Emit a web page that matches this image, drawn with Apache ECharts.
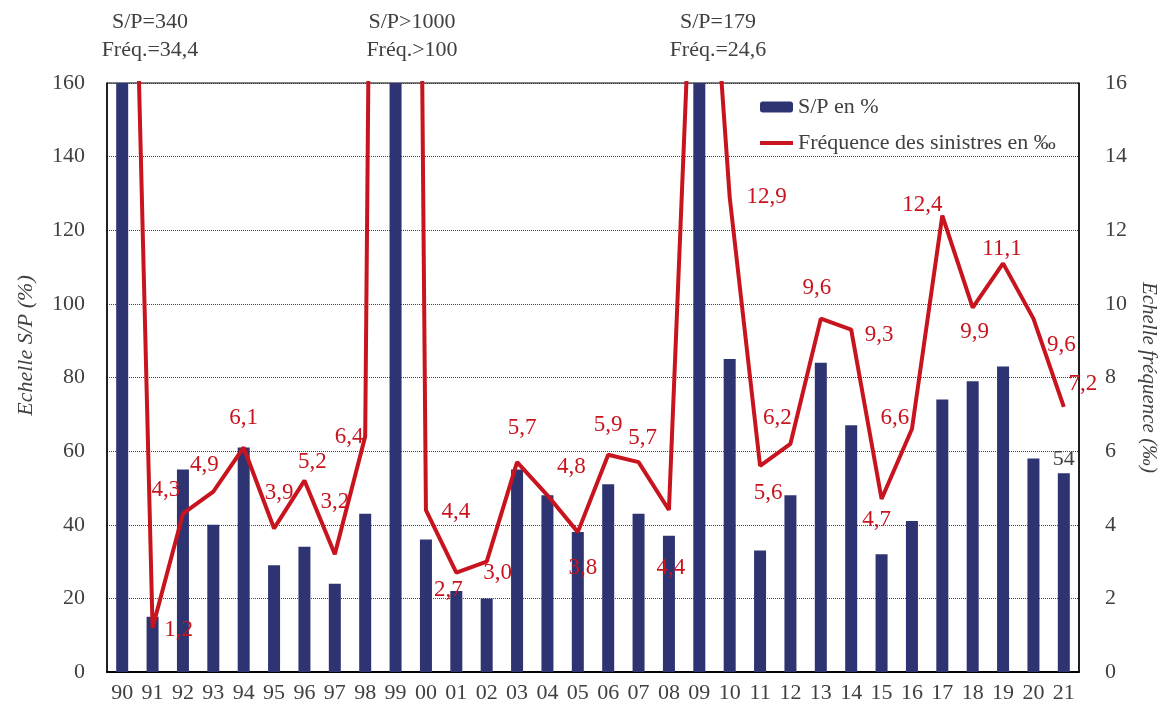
<!DOCTYPE html>
<html>
<head>
<meta charset="utf-8">
<script src="https://cdn.jsdelivr.net/npm/echarts@6/dist/echarts.min.js"></script>
<style>
  html, body { margin: 0; padding: 0; background: #fff; }
  #chart { width: 1163px; height: 705px; }
</style>
</head>
<body>
<div id="chart"></div>
<script>
const years = ["90", "91", "92", "93", "94", "95", "96", "97", "98", "99", "00", "01", "02", "03", "04", "05",
  "06", "07", "08", "09", "10", "11", "12", "13", "14", "15", "16", "17", "18", "19", "20", "21"];
// S/P en % (90, 99 et 09 hors échelle)
const spValues = [340, 15, 55, 40, 61, 29, 34, 24, 43, 1000, 36, 22, 20, 55, 48, 38,
  51, 43, 37, 179, 85, 33, 48, 84, 67, 32, 41, 74, 79, 83, 58, 54];
// fréquence des sinistres en ‰
const freqValues = [34.4, 1.2, 4.3, 4.9, 6.1, 3.9, 5.2, 3.2, 6.4, 100, 4.4, 2.7, 3.0, 5.7, 4.8, 3.8,
  5.9, 5.7, 4.4, 24.6, 12.9, 5.6, 6.2, 9.6, 9.3, 4.7, 6.6, 12.4, 9.9, 11.1, 9.6, 7.2];
const outOfScale = [
  { sp: "S/P=340", freq: "Fréq.=34,4" },
  { sp: "S/P>1000", freq: "Fréq.>100" },
  { sp: "S/P=179", freq: "Fréq.=24,6" }
];
const spNames = ["S/P en %", "Fréquence des sinistres en ‰"];

// label placement for the line (offset from the point, px)
const labelOffsets = [null, [26, 2], [-17, -24], [-9, -27], [0, -29], [5, -35], [8, -19], [0, -52], [-16, 1],
  null, [30, 2], [-8, 17], [11, 11], [5, -34], [24, -28], [5, 36], [0, -30], [4, -24], [2, 58],
  null, [37, 0], [8, 27], [-13, -26], [-4, -31], [28, 5], [-5, 21], [-17, -11], [-20, -11],
  [2, 24], [-1, -14], [28, 26], [19, -23]];

const red = "#C8141E";
const navy = "#2E3472";
const txt = "#404040";
const font = "'Liberation Serif', 'DejaVu Serif', serif";

const chartDom = document.getElementById("chart");
const myChart = echarts.init(chartDom);

const lineData = freqValues.map(function (v, i) {
  const off = labelOffsets[i];
  return {
    value: v,
    label: off ? { show: true, position: "inside", offset: off } : { show: false }
  };
});

const barData = spValues.map(function (v, i) {
  return {
    value: v,
    label: { show: i === spValues.length - 1 }
  };
});

const xs = [150, 412, 718];
const graphics = outOfScale.map(function (o, i) {
  return {
    type: "text", x: xs[i], y: 8,
    style: { text: o.sp + "\n" + o.freq, fill: txt, font: "22px " + font, textAlign: "center", lineHeight: 28 }
  };
});

let option = {
  animation: false,
  textStyle: { fontFamily: font },
  grid: {
    left: 107, right: 84, top: 83, bottom: 33,
    outerBoundsMode: "none",
    show: true, borderColor: "#000", borderWidth: 1
  },
  legend: {
    data: [
      { name: spNames[0] },
      { name: spNames[1], icon: "path://M0 0H33V4H0Z" }
    ],
    orient: "vertical",
    left: 755,
    top: 91,
    itemWidth: 33,
    itemHeight: 11,
    itemGap: 14,
    textStyle: { fontSize: 22, color: txt, fontFamily: font }
  },
  xAxis: {
    type: "category",
    data: years,
    axisLine: { lineStyle: { color: "#000", width: 2 } },
    axisTick: { show: false },
    axisLabel: { interval: 0, fontSize: 22, color: txt, margin: 10, fontFamily: font }
  },
  yAxis: [
    {
      type: "value",
      min: 0,
      max: 160,
      interval: 20,
      name: "Echelle S/P (%)",
      nameLocation: "middle",
      nameGap: 70,
      nameTextStyle: { fontSize: 22, fontStyle: "italic", color: txt, fontFamily: font, padding: [0, 0, 0, 64] },
      axisLine: { show: true, lineStyle: { color: "#000", width: 1.5 } },
      axisTick: { show: false },
      axisLabel: { fontSize: 22, color: txt, margin: 22, fontFamily: font },
      splitLine: { lineStyle: { color: "#444", type: "dotted", width: 1 } }
    },
    {
      type: "value",
      min: 0,
      max: 16,
      interval: 2,
      position: "right",
      name: "Echelle fréquence (‰)",
      nameLocation: "middle",
      nameRotate: -90,
      nameGap: 45,
      nameTextStyle: { fontSize: 21, fontStyle: "italic", color: txt, fontFamily: font },
      axisLine: { show: true, lineStyle: { color: "#000", width: 1.5 } },
      axisTick: { show: false },
      axisLabel: { fontSize: 22, color: txt, margin: 26, fontFamily: font },
      splitLine: { show: false }
    }
  ],
  series: [
    {
      name: spNames[0],
      type: "bar",
      yAxisIndex: 0,
      barWidth: 12,
      clip: true,
      itemStyle: { color: navy },
      label: { position: "top", fontSize: 22, color: txt, fontFamily: font, distance: 3 },
      data: barData
    },
    {
      name: spNames[1],
      type: "line",
      yAxisIndex: 1,
      symbol: "circle",
      symbolSize: 0.1,
      showSymbol: true,
      showAllSymbol: true,
      clip: true,
      lineStyle: { color: red, width: 4 },
      itemStyle: { color: red },
      label: {
        fontSize: 23,
        color: red,
        fontFamily: font,
        formatter: function (p) { return p.value.toFixed(1).replace(".", ","); }
      },
      data: lineData
    }
  ],
  graphic: graphics
};

option && myChart.setOption(option);

window.addEventListener("resize", function () {
  myChart.resize();
});
</script>
</body>
</html>
